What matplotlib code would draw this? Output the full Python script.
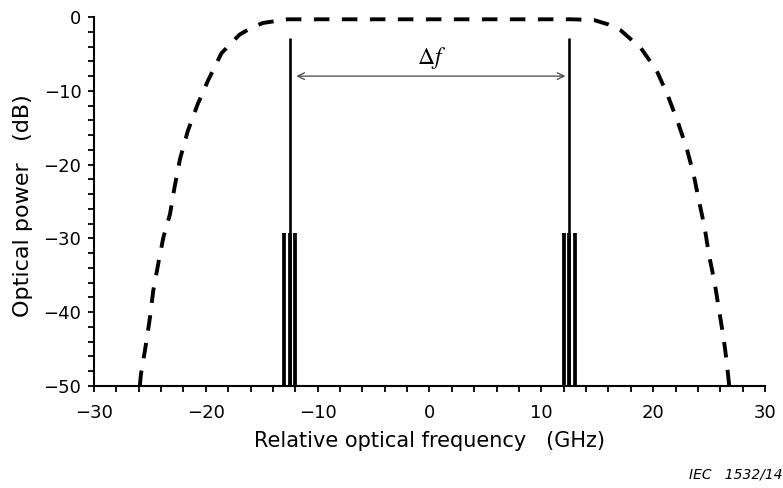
import matplotlib
matplotlib.use("Agg")
import matplotlib.pyplot as plt
from matplotlib.ticker import MultipleLocator

plt.rcParams['font.family'] = ['DejaVu Sans']
plt.rcParams['mathtext.fontset'] = 'stix'

# Filter envelope (dashed)
env_x = [-25.9, -25.8, -25.4, -25.0, -24.7, -24.2, -23.8, -23.2, -22.8, -22.3,
         -21.6, -20.7, -19.8, -18.6, -17.0, -16.0, -14.9, -12.7, 0.0, 12.7,
         14.7, 16.0, 17.1, 18.9, 20.3, 21.3, 22.2, 23.0, 23.6, 24.1, 24.6,
         25.0, 25.5, 25.9, 26.3, 26.6, 26.8]
env_y = [-50.0, -48.4, -44.8, -40.8, -37.1, -33.0, -29.9, -26.7, -23.1, -19.2,
         -15.4, -11.7, -8.6, -4.9, -2.4, -1.5, -0.8, -0.3, -0.3, -0.3,
         -0.4, -1.0, -1.8, -4.2, -7.2, -10.6, -14.2, -17.8, -21.2, -24.9, -28.5,
         -32.3, -36.0, -39.8, -43.5, -47.0, -50.0]

# Carrier lines
carrier_f = [-12.5, 12.5]
carrier_p = [-2.9, -2.9]
# Sidebands
side_f = [-13.0, -12.0, 12.0, 13.0]
side_p = [-29.3, -29.3, -29.3, -29.3]

floor = -50

fig = plt.figure(figsize=(7.83, 4.88), dpi=100)
ax = fig.add_axes([0.12, 0.209, 0.857, 0.756])

ax.plot(env_x, env_y, color='black', lw=2.8, linestyle=(0, (4.0, 3.2)),
        solid_capstyle='butt', dash_capstyle='butt', clip_on=False)
ax.vlines(side_f, floor, side_p, color='black', lw=2.7)
ax.vlines(carrier_f, floor, side_p[:2], color='black', lw=2.7)
ax.vlines(carrier_f, floor, carrier_p, color='black', lw=1.9)

ax.annotate('', xy=(carrier_f[0] + 0.6, -8.0), xytext=(carrier_f[1] - 0.35, -8.0),
            arrowprops=dict(arrowstyle='<->', color='#444444', lw=0.9,
                            shrinkA=0, shrinkB=0, mutation_scale=12))
ax.text(0.2, -5.6, r'$\Delta f$', ha='center', va='center', fontsize=17)

ax.set_xlim(-30, 30)
ax.set_ylim(-50, 0)
ax.xaxis.set_major_locator(MultipleLocator(10))
ax.xaxis.set_minor_locator(MultipleLocator(2))
ax.yaxis.set_major_locator(MultipleLocator(10))
ax.yaxis.set_minor_locator(MultipleLocator(2))
for s in ['top', 'right']:
    ax.spines[s].set_visible(False)
for s in ['left', 'bottom']:
    ax.spines[s].set_linewidth(1.5)
ax.tick_params(which='both', direction='out', width=1.3, labelsize=13, colors='black',
               length=4.5)
ax.tick_params(axis='x', which='both', pad=8.5)
ax.tick_params(axis='y', which='both', pad=4.5)

ax.set_xlabel('Relative optical frequency   (GHz)', fontsize=15)
ax.xaxis.set_label_coords(0.5, -0.122)
ax.set_ylabel('Optical power   (dB)', fontsize=16)
ax.yaxis.set_label_coords(-0.091, 0.49)

fig.text(0.999, 0.027, 'IEC   1532/14', ha='right', va='center', fontsize=10,
         style='italic')

fig.savefig('out.png', dpi=100)
